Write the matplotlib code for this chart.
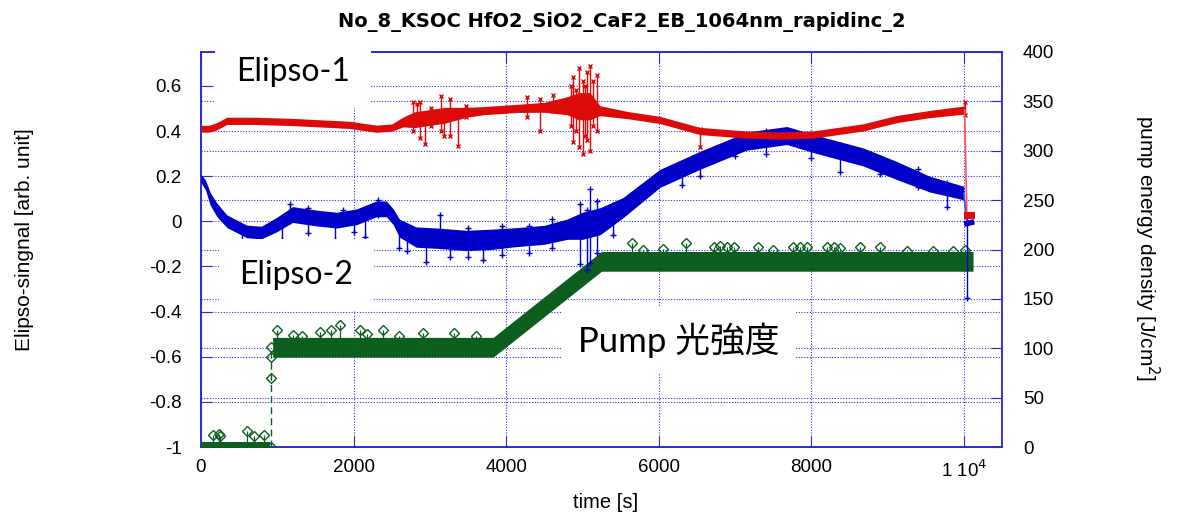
import numpy as np
import matplotlib.pyplot as plt

plt.rcParams['font.family'] = ['Liberation Sans', 'DejaVu Sans']

title = "No_8_KSOC HfO2_SiO2_CaF2_EB_1064nm_rapidinc_2"

# Elipso-1 (red, left axis): centre of the trace and half width of the noisy band
red_t = [0, 100, 200, 340, 700, 1200, 1950, 2300, 2500, 2650, 2800, 3000, 3200, 3480,
         3700, 4140, 4500, 4800, 4950, 5100, 5230, 5600, 6015, 6540, 7150, 7600, 8020,
         8680, 9120, 9550, 10010]
red_v = [0.41, 0.41, 0.42, 0.445, 0.445, 0.44, 0.427, 0.41, 0.415, 0.44, 0.45, 0.46, 0.47,
         0.483, 0.49, 0.50, 0.505, 0.512, 0.51, 0.51, 0.49, 0.47, 0.449, 0.40, 0.384, 0.38,
         0.384, 0.416, 0.453, 0.475, 0.493]
red_w = [0.015, 0.015, 0.016, 0.016, 0.016, 0.016, 0.016, 0.016, 0.016, 0.022, 0.035, 0.035,
         0.035, 0.022, 0.018, 0.018, 0.022, 0.04, 0.06, 0.06, 0.022, 0.016, 0.016, 0.016,
         0.016, 0.016, 0.016, 0.016, 0.016, 0.016, 0.018]
red_tail_t = [10010, 10040, 10100]
red_tail_v = [0.493, 0.026, 0.026]
red_spk_t = [2785, 2830, 2870, 2940, 3010, 3140, 3180, 3270, 3370, 3480, 4270, 4440, 4620,
             4850, 4880, 4920, 4950, 5010, 5040, 5060, 5100, 5140, 5190, 6540, 10010]
red_spk_lo = [0.40, 0.44, 0.37, 0.344, 0.42, 0.40, 0.38, 0.38, 0.335, 0.46, 0.46, 0.40,
              0.49, 0.42, 0.35, 0.40, 0.33, 0.30, 0.38, 0.36, 0.31, 0.42, 0.40, 0.33, 0.47]
red_spk_hi = [0.527, 0.52, 0.53, 0.47, 0.50, 0.556, 0.49, 0.54, 0.48, 0.51, 0.55, 0.54,
              0.56, 0.60, 0.64, 0.58, 0.68, 0.62, 0.60, 0.66, 0.69, 0.62, 0.65, 0.41, 0.527]

# Elipso-2 (blue, left axis)
blue_t = [0, 60, 120, 210, 340, 600, 790, 990, 1200, 1500, 1780, 2040, 2300, 2430, 2520,
          2600, 2820, 3100, 3480, 3800, 4140, 4500, 4800, 5000, 5230, 5530, 6015, 6540,
          7150, 7680, 8020, 8680, 9120, 9550, 10000]
blue_v = [0.19, 0.16, 0.10, 0.05, 0.00, -0.045, -0.05, -0.015, 0.03, 0.015, 0.005, 0.02,
          0.055, 0.055, 0.02, -0.03, -0.07, -0.075, -0.085, -0.08, -0.07, -0.06, -0.035,
          -0.02, 0.0, 0.06, 0.19, 0.27, 0.355, 0.38, 0.345, 0.285, 0.225, 0.165, 0.125]
blue_w = [0.018, 0.022, 0.028, 0.03, 0.028, 0.028, 0.028, 0.032, 0.035, 0.035, 0.035, 0.035,
          0.035, 0.035, 0.035, 0.04, 0.045, 0.045, 0.045, 0.045, 0.042, 0.042, 0.045, 0.06,
          0.06, 0.045, 0.04, 0.04, 0.04, 0.04, 0.04, 0.04, 0.04, 0.035, 0.03]
blue_tail_t = [10000, 10040, 10100]
blue_tail_v = [0.125, -0.01, -0.005]
blue_spk_t = [540, 1060, 1167, 1400, 1760, 1865, 2000, 2150, 2320, 2600, 2700, 2950, 3134,
              3260, 3500, 3700, 3950, 4300, 4600, 4970, 5060, 5100, 5190, 5400, 6300, 6540,
              7000, 7400, 8000, 8380, 8900, 9400, 9780, 10040]
blue_spk_lo = [-0.09, -0.084, 0.0, -0.05, -0.084, 0.0, -0.047, -0.07, 0.03, -0.12, -0.13,
               -0.18, -0.10, -0.158, -0.16, -0.17, -0.15, -0.14, -0.12, -0.19, -0.216,
               -0.187, -0.14, -0.06, 0.16, 0.2, 0.29, 0.30, 0.28, 0.22, 0.21, 0.15, 0.063,
               -0.34]
blue_spk_hi = [-0.03, 0.0, 0.078, 0.06, 0.0, 0.048, 0.02, 0.04, 0.093, -0.02, -0.03, -0.06,
               0.026, -0.06, -0.03, -0.06, -0.02, -0.02, 0.01, 0.078, 0.05, 0.145, 0.09,
               0.07, 0.26, 0.28, 0.38, 0.40, 0.38, 0.34, 0.28, 0.23, 0.17, 0.0]

# pump energy density (green, right axis)
pump_seg_t = [[0, 900], [940, 3830, 5250, 10120]]
pump_seg_v = [[0, 0], [101, 101, 188, 188]]
pump_seg_w = [5, 10]
pump_jump_t = [913, 913, 913, 913]
pump_jump_v = [0, 70, 91, 101]
pump_out_t = [160, 230, 250, 600, 700, 820, 990, 1200, 1320, 1560, 1700, 1820, 2080,
              2170, 2380, 2600, 2910, 3310, 3600, 5650, 5800, 6050, 6360, 6730, 6800,
              6900, 6990, 7300, 7500, 7760, 7850, 7950, 8210, 8300, 8380, 8640, 8900,
              9260, 9600, 9860, 10010]
pump_out_v = [12, 13, 11, 16, 11, 12, 118, 113, 112, 116, 118, 124, 118, 114, 118, 112,
              115, 115, 112, 207, 200, 201, 207, 203, 204, 203, 203, 203, 200, 203, 203,
              203, 203, 203, 202, 203, 203, 198, 198, 198, 199]

RED = '#dd0a0a'
BLUE = '#0000c8'
GREEN = '#0b5e1e'
AXBLUE = '#2a2ad8'

fig = plt.figure(figsize=(11.78, 5.27), dpi=100)
ax = fig.add_axes([201 / 1178, 1 - 447 / 527, 801 / 1178, 395 / 527])
ax2 = ax.twinx()
ax.set_zorder(ax2.get_zorder() + 1)
ax.patch.set_visible(False)

ax.set_xlim(0, 10500)
ax.set_ylim(-1, 0.75)
ax2.set_ylim(0, 400)

# grid
gkw = dict(color='#3030e0', linestyle=(0, (1, 1.5)), linewidth=0.8)
ax.grid(True, **gkw)
ax2.grid(True, axis='y', **gkw)
ax2.set_axisbelow(True)

# pump (drawn in ax with the right-axis transform)
tr2 = ax2.transData
for t, v, w in zip(pump_seg_t, pump_seg_v, pump_seg_w):
    t = np.array(t, float)
    v = np.array(v, float)
    ax.fill_between(t, v - w, v + w, color=GREEN, lw=0, transform=tr2, zorder=3)
ax.plot(pump_jump_t, pump_jump_v, color=GREEN, ls=(0, (5, 3)), lw=1.0, marker='D',
        ms=5, mfc='none', mec=GREEN, transform=tr2, zorder=3)
base = np.interp(pump_out_t, [0, 900, 901, 3830, 5250, 10120], [0, 0, 101, 101, 188, 188])
ax.vlines(pump_out_t, base, pump_out_v, color=GREEN, lw=0.9, transform=tr2, zorder=3)
ax.plot(pump_out_t, pump_out_v, ls='none', marker='D', ms=5, mfc='none', mec=GREEN,
        mew=1.0, transform=tr2, zorder=3)

# Elipso-2
bt = np.array(blue_t, float)
bv = np.array(blue_v)
bw = np.array(blue_w)
ax.vlines(blue_spk_t, blue_spk_lo, blue_spk_hi, color=BLUE, lw=1.0, zorder=4)
ax.plot(blue_spk_t, blue_spk_lo, ls='none', marker='+', ms=4, color=BLUE, zorder=4)
ax.plot(blue_spk_t, blue_spk_hi, ls='none', marker='+', ms=4, color=BLUE, zorder=4)
ax.fill_between(bt, bv - bw, bv + bw, color=BLUE, lw=0, zorder=4)
ax.plot(blue_tail_t, blue_tail_v, color='#4444ff', lw=1.2, zorder=4)
ax.plot(blue_tail_t[1:], blue_tail_v[1:], color=BLUE, lw=4, zorder=4)

# Elipso-1
rt = np.array(red_t, float)
rv = np.array(red_v)
rw = np.array(red_w)
ax.vlines(red_spk_t, red_spk_lo, red_spk_hi, color=RED, lw=1.0, zorder=5)
ax.plot(red_spk_t, red_spk_lo, ls='none', marker='x', ms=3, color=RED, zorder=5)
ax.plot(red_spk_t, red_spk_hi, ls='none', marker='x', ms=3, color=RED, zorder=5)
ax.fill_between(rt, rv - rw, rv + rw, color=RED, lw=0, zorder=5)
ax.plot(red_tail_t, red_tail_v, color='#ff5555', lw=1.2, zorder=5)
ax.plot(red_tail_t[1:], red_tail_v[1:], color=RED, lw=5, zorder=5)

# ticks
ax.set_xticks([0, 2000, 4000, 6000, 8000, 10000])
ax.set_xticklabels(['0', '2000', '4000', '6000', '8000', '1 10$^4$'])
ax.set_yticks([-1, -0.8, -0.6, -0.4, -0.2, 0, 0.2, 0.4, 0.6])
ax.set_yticklabels(['-1', '-0.8', '-0.6', '-0.4', '-0.2', '0', '0.2', '0.4', '0.6'])
ax2.set_yticks(range(0, 401, 50))
ax.tick_params(axis='both', direction='in', length=8, color=AXBLUE, labelsize=13.5,
               labelcolor='black', top=True, right=False)
ax.tick_params(axis='y', pad=14)
ax.tick_params(axis='x', pad=9)
ax2.tick_params(axis='y', direction='in', length=8, color=AXBLUE, labelsize=13.5,
                labelcolor='black', pad=15)
for a in (ax, ax2):
    for s in a.spines.values():
        s.set_color(AXBLUE)
        s.set_linewidth(1.2)
ax2.spines['right'].set_color('#6a6aff')

# axis titles
fig.text(622 / 1178, 1 - 22 / 527, title, ha='center', va='center', fontsize=14,
         fontweight='bold', family='DejaVu Sans')
fig.text(25 / 1178, 1 - 240 / 527, 'Elipso-singnal [arb. unit]', rotation=90,
         ha='center', va='center', fontsize=15)
fig.text(1147 / 1178, 1 - 248 / 527, 'pump energy density [J/cm$^2$]', rotation=270,
         ha='center', va='center', fontsize=15)
fig.text(606 / 1178, 1 - 503 / 527, 'time [s]', ha='center', va='center', fontsize=14.5)

# pasted labels with white boxes
lkw = dict(ha='center', va='center', zorder=20, clip_on=False,
           family=['Lato', 'Noto Sans CJK JP'])
ax.text(0.115, 0.95, 'Elipso-1', transform=ax.transAxes, fontsize=23,
        bbox=dict(boxstyle='square,pad=0.65', fc='white', ec='none'), **lkw)
ax.text(0.119, 0.435, 'Elipso-2', transform=ax.transAxes, fontsize=23,
        bbox=dict(boxstyle='square,pad=0.65', fc='white', ec='none'), **lkw)
ax.text(0.596, 0.27, 'Pump 光強度', transform=ax.transAxes, fontsize=25,
        bbox=dict(boxstyle='square,pad=0.45', fc='white', ec='none'), **lkw)

fig.savefig('out.png', dpi=100)
